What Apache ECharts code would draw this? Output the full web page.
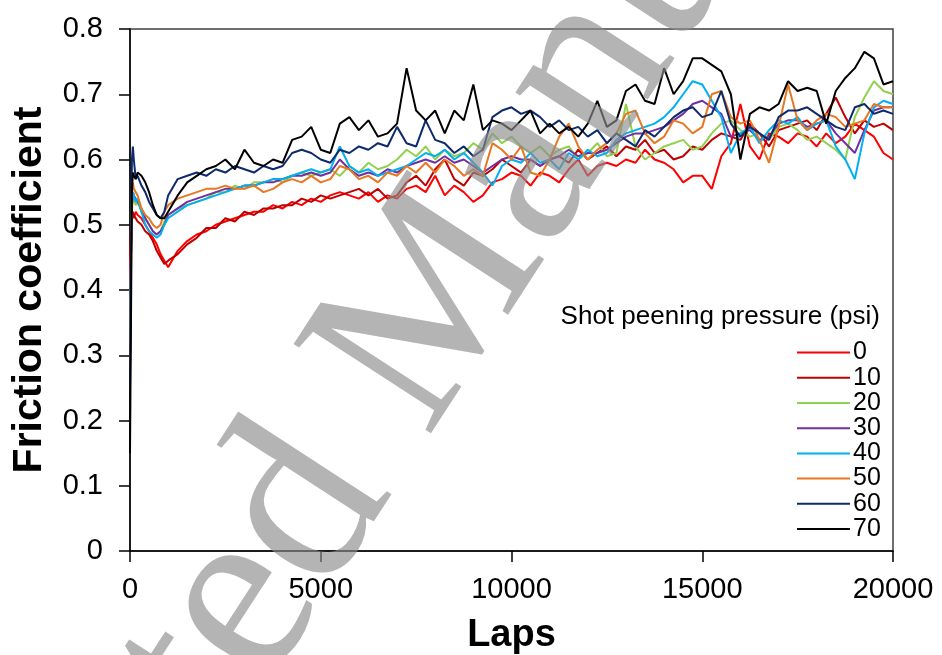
<!DOCTYPE html>
<html><head><meta charset="utf-8">
<script src="https://cdn.jsdelivr.net/npm/echarts@6/dist/echarts.min.js"></script>
<style>html,body{margin:0;padding:0;background:#fff}#c{width:942px;height:655px}</style>
</head><body><div id="c"></div>
<script>
const laps = [0,25,50,75,100,150,200,300,400,500,600,700,800,900,1000,
 1250,1500,1750,2000,2250,2500,2750,3000,3250,3500,3750,4000,4250,4500,4750,5000,
 5250,5500,5750,6000,6250,6500,6750,7000,7250,7500,7750,8000,8250,8500,8750,9000,
 9250,9500,9750,10000,10250,10500,10750,11000,11250,11500,11750,12000,12250,12500,12750,13000,
 13250,13500,13750,14000,14250,14500,14750,15000,15250,15500,15750,16000,16250,16500,16750,17000,
 17250,17500,17750,18000,18250,18500,18750,19000,19250,19500,19750,20000];

const p0 = [0.42,0.50,0.52,0.515,0.51,0.52,0.515,0.51,0.50,0.49,0.48,0.47,0.455,0.445,0.435,
 0.46,0.475,0.485,0.49,0.50,0.505,0.51,0.515,0.52,0.52,0.53,0.525,0.535,0.53,0.54,0.535,
 0.545,0.55,0.545,0.54,0.55,0.535,0.545,0.54,0.555,0.56,0.55,0.575,0.545,0.56,0.55,0.535,
 0.545,0.565,0.57,0.58,0.575,0.56,0.58,0.575,0.565,0.585,0.60,0.575,0.59,0.595,0.59,0.60,
 0.595,0.615,0.60,0.595,0.585,0.565,0.575,0.575,0.555,0.605,0.625,0.685,0.62,0.60,0.64,0.635,
 0.625,0.64,0.635,0.62,0.64,0.625,0.635,0.655,0.645,0.635,0.61,0.60];
const p10 = [0.40,0.48,0.51,0.52,0.515,0.51,0.505,0.50,0.49,0.485,0.475,0.46,0.45,0.44,0.445,
 0.455,0.47,0.48,0.495,0.495,0.51,0.505,0.52,0.515,0.525,0.525,0.53,0.53,0.54,0.535,0.545,
 0.54,0.545,0.55,0.555,0.545,0.555,0.54,0.545,0.565,0.575,0.56,0.585,0.60,0.57,0.56,0.58,
 0.575,0.585,0.60,0.59,0.58,0.60,0.59,0.60,0.605,0.595,0.615,0.60,0.61,0.62,0.605,0.62,
 0.615,0.63,0.61,0.615,0.60,0.605,0.62,0.615,0.63,0.64,0.635,0.63,0.655,0.64,0.62,0.645,
 0.65,0.655,0.66,0.645,0.67,0.695,0.665,0.64,0.66,0.65,0.655,0.645];
const p20 = [0.32,0.45,0.52,0.54,0.54,0.53,0.535,0.52,0.51,0.50,0.49,0.485,0.49,0.505,0.515,
 0.525,0.53,0.535,0.54,0.55,0.55,0.56,0.555,0.565,0.565,0.57,0.565,0.575,0.58,0.575,0.58,
 0.585,0.575,0.59,0.58,0.595,0.585,0.59,0.60,0.615,0.605,0.62,0.60,0.615,0.605,0.61,0.625,
 0.615,0.64,0.625,0.635,0.62,0.61,0.62,0.605,0.615,0.62,0.60,0.61,0.625,0.605,0.61,0.685,
 0.62,0.60,0.61,0.62,0.625,0.63,0.615,0.62,0.64,0.655,0.66,0.645,0.635,0.64,0.63,0.65,
 0.655,0.645,0.63,0.635,0.625,0.615,0.60,0.665,0.695,0.72,0.705,0.70];
const p30 = [0.30,0.45,0.53,0.55,0.545,0.54,0.54,0.525,0.51,0.50,0.49,0.485,0.49,0.50,0.515,
 0.525,0.535,0.54,0.545,0.55,0.555,0.555,0.56,0.56,0.565,0.565,0.57,0.575,0.575,0.58,0.575,
 0.58,0.60,0.585,0.575,0.58,0.575,0.585,0.58,0.59,0.595,0.60,0.595,0.605,0.595,0.60,0.59,
 0.58,0.59,0.60,0.605,0.60,0.60,0.59,0.60,0.605,0.615,0.605,0.61,0.61,0.615,0.625,0.635,
 0.64,0.64,0.645,0.65,0.66,0.67,0.685,0.69,0.68,0.67,0.635,0.64,0.645,0.63,0.635,0.655,
 0.66,0.66,0.65,0.655,0.66,0.64,0.625,0.61,0.645,0.675,0.68,0.68];
const p40 = [0.30,0.45,0.53,0.55,0.545,0.535,0.54,0.52,0.50,0.49,0.485,0.48,0.485,0.50,0.51,
 0.52,0.53,0.535,0.54,0.545,0.55,0.555,0.56,0.56,0.565,0.57,0.57,0.575,0.58,0.585,0.58,
 0.585,0.62,0.59,0.58,0.585,0.575,0.58,0.585,0.59,0.60,0.61,0.605,0.615,0.60,0.61,0.595,
 0.58,0.56,0.59,0.60,0.595,0.61,0.595,0.60,0.585,0.61,0.60,0.615,0.605,0.61,0.63,0.64,
 0.645,0.65,0.655,0.665,0.68,0.70,0.72,0.715,0.69,0.665,0.61,0.64,0.65,0.625,0.645,0.66,
 0.655,0.665,0.645,0.655,0.66,0.62,0.60,0.57,0.64,0.68,0.69,0.685];
const p50 = [0.28,0.42,0.55,0.565,0.555,0.55,0.545,0.525,0.515,0.51,0.50,0.495,0.50,0.52,0.53,
 0.54,0.545,0.55,0.555,0.555,0.56,0.555,0.555,0.56,0.55,0.555,0.565,0.57,0.565,0.575,0.565,
 0.57,0.59,0.585,0.57,0.575,0.565,0.58,0.575,0.59,0.58,0.595,0.58,0.60,0.59,0.575,0.585,
 0.575,0.625,0.615,0.60,0.62,0.58,0.575,0.60,0.635,0.655,0.62,0.60,0.615,0.625,0.64,0.67,
 0.675,0.64,0.625,0.635,0.66,0.655,0.64,0.65,0.70,0.705,0.665,0.655,0.66,0.63,0.595,0.65,
 0.715,0.66,0.645,0.66,0.67,0.665,0.65,0.655,0.66,0.685,0.68,0.68];
const p60 = [0.25,0.45,0.60,0.62,0.60,0.57,0.575,0.56,0.55,0.535,0.525,0.515,0.51,0.52,0.545,
 0.57,0.575,0.58,0.575,0.585,0.58,0.59,0.585,0.58,0.59,0.585,0.59,0.61,0.615,0.61,0.60,
 0.595,0.615,0.61,0.62,0.615,0.625,0.62,0.65,0.625,0.62,0.66,0.63,0.625,0.61,0.62,0.605,
 0.615,0.665,0.675,0.68,0.67,0.675,0.665,0.65,0.66,0.645,0.65,0.635,0.645,0.625,0.64,0.63,
 0.62,0.645,0.635,0.65,0.665,0.675,0.68,0.665,0.67,0.705,0.655,0.635,0.65,0.64,0.63,0.665,
 0.675,0.675,0.68,0.67,0.66,0.65,0.645,0.68,0.685,0.67,0.675,0.67];
const p70 = [0.15,0.35,0.55,0.58,0.575,0.57,0.58,0.575,0.565,0.55,0.53,0.515,0.51,0.51,0.52,
 0.545,0.565,0.575,0.585,0.59,0.60,0.585,0.615,0.595,0.59,0.60,0.595,0.63,0.635,0.65,0.615,
 0.61,0.655,0.665,0.645,0.66,0.635,0.64,0.655,0.74,0.675,0.66,0.675,0.64,0.675,0.66,0.715,
 0.645,0.66,0.655,0.645,0.66,0.675,0.64,0.655,0.64,0.65,0.635,0.655,0.69,0.65,0.66,0.705,
 0.715,0.69,0.685,0.74,0.70,0.72,0.755,0.755,0.745,0.735,0.70,0.60,0.67,0.68,0.675,0.685,
 0.72,0.705,0.71,0.705,0.655,0.705,0.725,0.74,0.765,0.755,0.715,0.72];

const names = ['0','10','20','30','40','50','60','70'];
const values = [p0,p10,p20,p30,p40,p50,p60,p70];
const colors = ['#FF0000','#C00000','#92D050','#7030A0','#00B0F0','#E87722','#0D2A6B','#000000'];
const xTicks = [0,5000,10000,15000,20000];
const yTicks = [0,0.1,0.2,0.3,0.4,0.5,0.6,0.7,0.8];

const chart = echarts.init(document.getElementById('c'), null, {renderer:'canvas'});
const font = '"Liberation Sans", Arial, sans-serif';
chart.setOption({
  animation:false,
  backgroundColor:'#fff',
  grid:{left:130,right:49,top:29,bottom:104,show:true,borderColor:'#404040',borderWidth:1.5,
    containLabel:false,outerBoundsMode:'none'},
  xAxis:{type:'value',min:xTicks[0],max:xTicks[xTicks.length-1],interval:5000,
    name:'Laps',nameLocation:'middle',nameGap:66,
    nameTextStyle:{fontFamily:font,fontWeight:'bold',fontSize:38,color:'#000'},
    axisLine:{lineStyle:{color:'#000',width:1.5}},
    axisTick:{show:true,length:11,lineStyle:{color:'#000',width:1.5}},
    axisLabel:{fontFamily:font,fontSize:29,color:'#000',margin:24,formatter:v=>String(v)},
    splitLine:{show:false}},
  yAxis:{type:'value',min:yTicks[0],max:yTicks[yTicks.length-1],interval:0.1,
    name:'Friction coefficient',nameLocation:'middle',nameGap:80,
    nameTextStyle:{fontFamily:font,fontWeight:'bold',fontSize:41,color:'#000'},
    axisLine:{lineStyle:{color:'#000',width:1.5}},
    axisTick:{show:true,length:11,lineStyle:{color:'#000',width:1.5}},
    axisLabel:{fontFamily:font,fontSize:29,color:'#000',margin:27,
      formatter:v=>v===0?'0':v.toFixed(1)},
    splitLine:{show:false}},
  legend:{data:names,orient:'vertical',left:797,top:340,padding:0,itemGap:0,
    itemWidth:53,itemHeight:2,icon:'rect',
    textStyle:{fontFamily:font,fontSize:25,lineHeight:25.2,color:'#000',padding:[0,0,0,-2]}},
  graphic:[
    {type:'text',right:62,top:304,z:10,style:{text:'Shot peening pressure (psi)',font:'26px '+font,fill:'#000'}},
    {type:'text',x:408,y:348,rotation:57*Math.PI/180,z:100,silent:true,
     style:{text:'Accepted Manuscript',font:'250px "Liberation Serif", "Times New Roman", serif',
       fill:'#8c8c8c',opacity:0.65,align:'center',verticalAlign:'middle'}}
  ],
  series:names.map((n,i)=>({name:n,type:'line',showSymbol:false,symbol:'none',
    data:laps.map((l,j)=>[l,values[i][j]]),
    lineStyle:{color:colors[i],width:2},itemStyle:{color:colors[i]},z:2+i}))
});
</script></body></html>
